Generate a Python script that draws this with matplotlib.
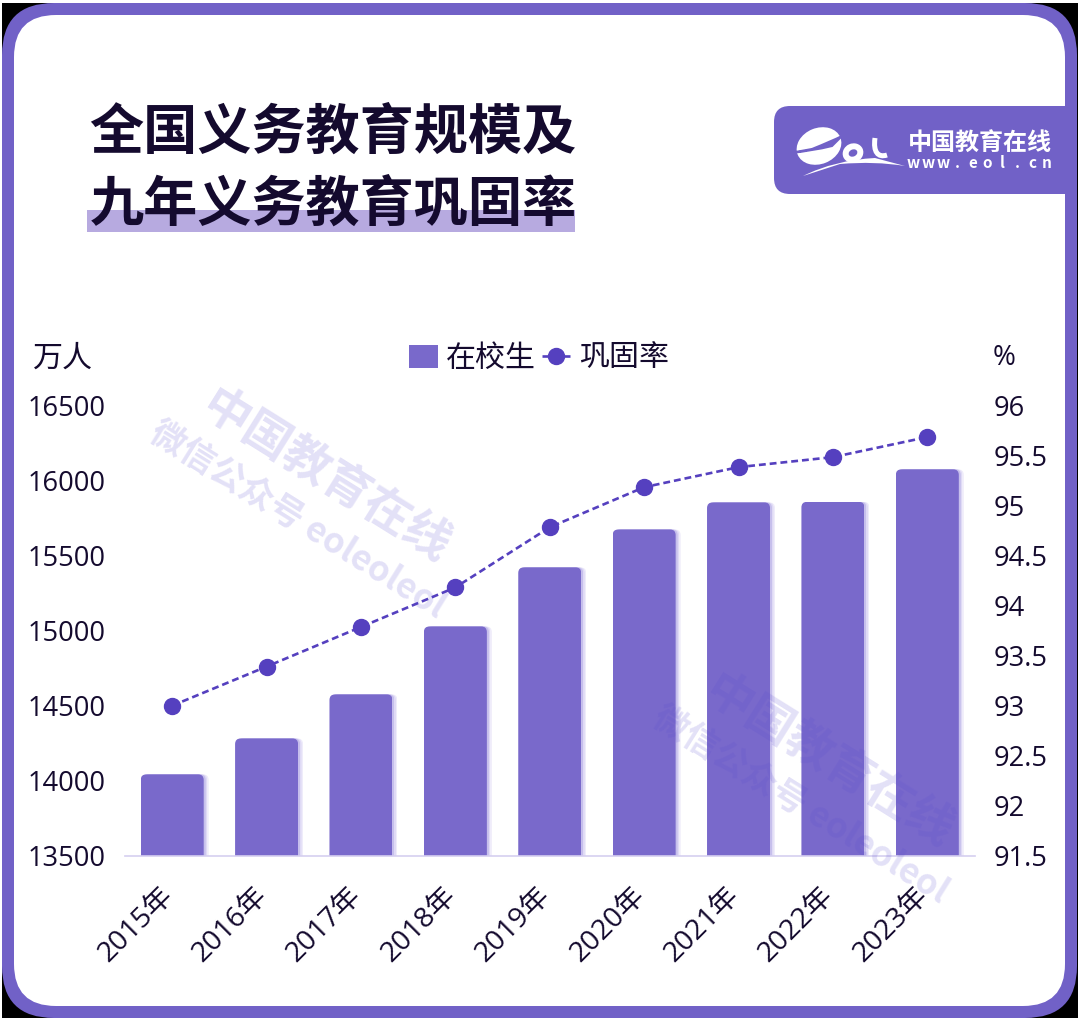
import matplotlib
matplotlib.use("Agg")
import matplotlib.pyplot as plt
from matplotlib.patches import FancyBboxPatch, Rectangle, Ellipse, PathPatch
from matplotlib.path import Path
from matplotlib.transforms import ScaledTranslation

plt.rcParams['font.family'] = ['Noto Sans CJK SC', 'DejaVu Sans']

years = ['2015年', '2016年', '2017年', '2018年', '2019年', '2020年', '2021年', '2022年', '2023年']
students = [14043, 14282, 14575, 15027, 15420, 15672, 15852, 15856, 16072]
rate = [93.0, 93.39, 93.785, 94.18, 94.78, 95.18, 95.38, 95.48, 95.68]
left_ticks = [13500, 14000, 14500, 15000, 15500, 16000, 16500]
right_ticks = [91.5, 92, 92.5, 93, 93.5, 94, 94.5, 95, 95.5, 96]
right_labels = ['91.5', '92', '92.5', '93', '93.5', '94', '94.5', '95', '95.5', '96']

W, H = 1080, 1025
PURPLE = '#7161c7'
BAR = '#7969cb'
LINE = '#5540bf'
INK = '#140a2e'
TICK_FONT = ['Open Sans', 'Noto Sans CJK SC']

fig = plt.figure(figsize=(W / 100, H / 100), dpi=100, facecolor='white')

# decoration layer in pixel coordinates
bg = fig.add_axes([0, 0, 1, 1], zorder=-1)
bg.set_xlim(0, W)
bg.set_ylim(H, 0)
bg.axis('off')
bg.add_patch(Rectangle((2, 3), 1076, 1015, fc='black', ec='none'))
bg.add_patch(FancyBboxPatch((2, 3), 1075, 1015, boxstyle='round,pad=0,rounding_size=52', fc=PURPLE, ec='none'))
bg.add_patch(FancyBboxPatch((14, 15), 1051, 991, boxstyle='round,pad=0,rounding_size=42', fc='white', ec='none'))

# title
bg.add_patch(Rectangle((87, 210), 488, 22, fc='#b7aae0', ec='none'))
bg.text(333, 133, '全国义务教育规模及', fontsize=39, fontweight='bold', color=INK, ha='center', va='center')
bg.text(333, 205, '九年义务教育巩固率', fontsize=39, fontweight='bold', color=INK, ha='center', va='center')

# logo panel
bg.add_patch(FancyBboxPatch((774, 106), 340, 88, boxstyle='round,pad=0,rounding_size=16', fc=PURPLE, ec='none'))
bg.add_patch(Rectangle((1065, 90), 12, 130, fc=PURPLE, ec='none'))
bg.add_patch(Rectangle((1077, 90), 3, 130, fc='black', ec='none', zorder=3))
bg.add_patch(Rectangle((1078, 90), 2, 130, fc='white', ec='none', zorder=4))
bg.add_patch(Ellipse((819, 146), 46, 36, angle=-22, fc='white', ec='none'))
bg.add_patch(PathPatch(Path([(790, 153), (812, 151), (832, 146), (842, 136), (832, 141), (812, 149), (790, 153)],
                            [1, 3, 3, 2, 3, 3, 2]), fc=PURPLE, ec=PURPLE, lw=1.5))
bg.add_patch(Ellipse((853, 153), 21, 19, angle=-25, fc='white', ec='none'))
bg.add_patch(Ellipse((853, 153), 9, 7, angle=-25, fc=PURPLE, ec='none'))
bg.add_patch(PathPatch(Path([(875, 138), (873, 152), (878, 158), (887, 155)], [1, 4, 4, 4]), fc='none', ec='white', lw=3.6))
bg.add_patch(PathPatch(Path([(803, 176), (835, 160), (875, 158), (905, 166), (875, 161), (840, 164), (803, 176)],
                            [1, 3, 3, 2, 3, 3, 2]), fc='white', ec='none'))
bg.text(980, 144, '中国教育在线', fontsize=17.3, fontweight='bold', color='white', ha='center', va='center')
for i, ch in enumerate('www.eol.cn'):
    bg.text(913 + i * 14.9, 163, ch, fontsize=11, fontweight='bold', color='white', ha='center', va='center')

# chart
ax = fig.add_axes([125 / W, 1 - 856 / H, 849.5 / W, 451 / H], zorder=1)
ax.patch.set_alpha(0)
ax.set_xlim(-0.5, 8.5)
ax.set_ylim(13500, 16500)
xs = list(range(len(years)))
px = 1 / 94.39
bw = 63 * px
groups = []
for off, col in ((5, '#efecfa'), (3.5, '#dfdaf5'), (2, '#c6bfec')):
    groups.append(ax.bar([x + off * px for x in xs], students, width=bw, color=col, zorder=1))
bars = ax.bar(xs, students, width=bw, color=BAR, zorder=2, label='在校生')
groups.append(bars)
aspect = 94.39 / (451 / 3000)
for group in groups:
    for b in group:
        clip = FancyBboxPatch((b.get_x(), 13000), b.get_width(), b.get_height() - 13000,
                              boxstyle='round,pad=0,rounding_size=0.06', mutation_aspect=aspect,
                              transform=ax.transData)
        b.set_clip_path(clip)

ax.set_xticks(xs)
ax.set_xticklabels(years, rotation=45, ha='right', va='top', rotation_mode='anchor', fontsize=20.5, color=INK, family=TICK_FONT)
ax.set_yticks(left_ticks)
ax.set_yticklabels([str(v) for v in left_ticks], fontsize=19.6, color=INK, family=TICK_FONT)
ax.tick_params(axis='y', length=0, pad=14)
ax.tick_params(axis='x', length=0, pad=18.5)
for s in ('top', 'left', 'right'):
    ax.spines[s].set_visible(False)
ax.spines['bottom'].set_color('#d5cff0')
ax.spines['bottom'].set_linewidth(1.2)

ax2 = ax.twinx()
ax2.set_zorder(2)
ax2.set_ylim(91.5, 96)
line, = ax2.plot(xs, rate, color=LINE, lw=1.9, ls=(0, (2.6, 1.5)), marker='o', ms=11.5, mec=LINE, label='巩固率', clip_on=False)
ax2.set_yticks(right_ticks)
ax2.set_yticklabels(right_labels, fontsize=19.6, color=INK, family=TICK_FONT)
ax2.tick_params(axis='y', length=0, pad=14)
for s in ax2.spines.values():
    s.set_visible(False)

# nudge tick labels after tick_params, which resets their transforms
xshift = ScaledTranslation(-13 / 100, 0, fig.dpi_scale_trans)
for lab in ax.get_xticklabels():
    lab.set_transform(lab.get_transform() + xshift)

leg = ax2.legend([bars, line], ['在校生', '巩固率'], ncol=2, loc='center',
                 bbox_to_anchor=((539 - 125) / 849.5, (856 - 358) / 451), frameon=False,
                 prop={'family': ['Noto Sans CJK SC'], 'size': 21.6}, labelcolor=INK,
                 handlelength=0.95, handleheight=0.8, handletextpad=0.28, columnspacing=0.18, borderpad=0)

bg.text(63, 358, '万人', fontsize=21.6, color=INK, ha='center', va='center')
bg.text(1004, 358, '%', fontsize=20, color=INK, ha='center', va='center', family=TICK_FONT)

# watermarks
for dx, dy in ((0, 0), (503, 285)):
    fig.text((326 + dx) / W, 1 - (478 + dy) / H, '中国教育在线', fontsize=34, fontweight='bold', color='#5a4bd0', alpha=0.17,
             rotation=-32, rotation_mode='anchor', ha='center', va='center', zorder=10)
    fig.text((298 + dx) / W, 1 - (520 + dy) / H, '微信公众号 eoleoleol', fontsize=25, fontweight='bold', color='#5a4bd0', alpha=0.17,
             rotation=-32, rotation_mode='anchor', ha='center', va='center', zorder=10)

fig.savefig('out.png', dpi=100, facecolor='white')
